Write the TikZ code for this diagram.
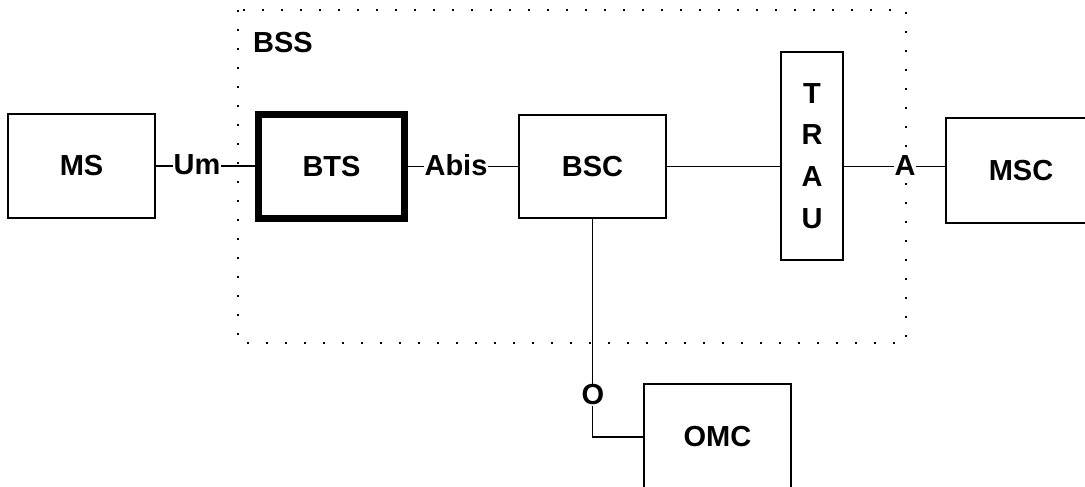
\documentclass[tikz,border=0pt]{standalone}
\usepackage{fontspec}
\setmainfont{Liberation Sans}
\begin{document}
\begin{tikzpicture}[x=1pt,y=-1pt,
  box/.style={draw=black,line width=1.5pt,minimum width=147pt,minimum height=104pt,inner sep=0pt,font=\bfseries\fontsize{29}{34}\selectfont},
  lbl/.style={fill=white,inner sep=1pt,font=\bfseries\fontsize{29}{34}\selectfont},
  conn/.style={line width=1.5pt},
  bss/.style={line width=2pt,dash pattern=on 2pt off 17pt}]
\useasboundingbox (0,0) rectangle (1085,487);
% BSS region
\draw[bss] (238,10) rectangle (906,343);
\node[anchor=base west,inner sep=0pt,font=\bfseries\fontsize{29}{34}\selectfont] (bsslbl) at (253,53) {BSS};
% boxes
\node[box] (MS) at (81.5,166) {MS};
\node[box,line width=7pt,minimum width=146pt,minimum height=104pt] (BTS) at (331.5,166.5) {BTS};
\node[box,minimum height=103pt] (BSC) at (592.5,166.5) {BSC};
\node[box,minimum width=62pt,minimum height=208pt,align=center,font=\bfseries\fontsize{29}{41.7}\selectfont] (TRAU) at (812,156) {T\\R\\A\\U};
\node[box,minimum width=150pt,minimum height=105pt] (MSC) at (1021,170.5) {MSC};
\node[box,minimum height=106pt] (OMC) at (717.5,437) {OMC};
% connectors
\draw[conn] (MS.east) -- (MS.east -| BTS.west);
\draw[conn] (BTS.east) -- (BTS.east -| BSC.west);
\draw[conn] (BSC.east) -- (BSC.east -| TRAU.west);
\draw[conn] (TRAU.east |- BSC.east) -- (BSC.east -| MSC.west);
\draw[conn] (BSC.south) |- (OMC.west);
% interface labels
\node[lbl] (um) at (197,165) {Um};
\node[lbl] (abis) at (456,165) {Abis};
\node[lbl] (a) at (905,166) {A};
\node[lbl] (o) at (593,395) {O};
\end{tikzpicture}
\end{document}
